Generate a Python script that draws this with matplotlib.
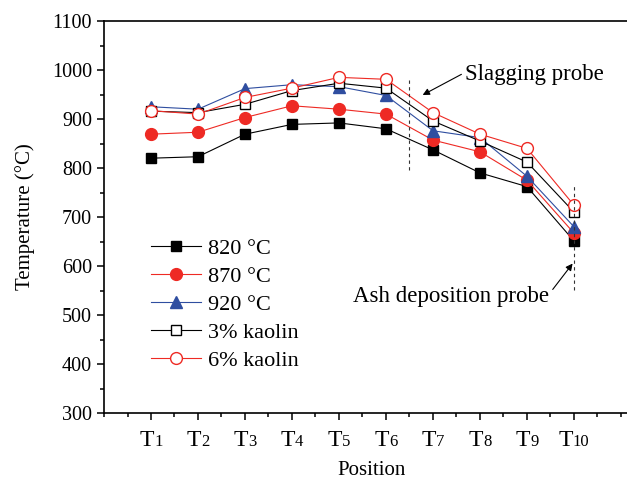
import matplotlib
matplotlib.use("Agg")
import matplotlib.pyplot as plt
from matplotlib.ticker import MultipleLocator

plt.rcParams['font.family'] = ['Liberation Serif', 'DejaVu Serif']

# Data
positions = [1, 2, 3, 4, 5, 6, 7, 8, 9, 10]
tick_subs = [str(i) for i in positions]
t820 = [820, 823, 869, 889, 892, 880, 837, 790, 762, 651]
t870 = [869, 873, 903, 927, 920, 910, 857, 833, 775, 667]
t920 = [925, 920, 962, 970, 966, 948, 876, 862, 783, 680]
kaolin3 = [916, 913, 930, 958, 973, 963, 896, 855, 812, 710]
kaolin6 = [917, 910, 944, 963, 985, 981, 913, 869, 840, 724]

RED = '#ee2a24'
BLUE = '#2f4ea0'

fig = plt.figure(figsize=(6.27, 4.84), dpi=100)
ax = fig.add_axes([104 / 627, 71 / 484, 540.5 / 627, 392 / 484])

lw = 0.8
ax.plot(positions, t820, color='black', lw=lw, marker='s', ms=7.5,
        mfc='black', mec='black', label='820 °C')
ax.plot(positions, t870, color=RED, lw=lw, marker='o', ms=8.5,
        mfc=RED, mec=RED, label='870 °C')
ax.plot(positions, t920, color=BLUE, lw=lw, marker='^', ms=9,
        mfc=BLUE, mec=BLUE, label='920 °C')
ax.plot(positions, kaolin3, color='black', lw=lw, marker='s', ms=7.5,
        mfc='white', mec='black', label='3% kaolin')
ax.plot(positions, kaolin6, color=RED, lw=lw, marker='o', ms=8.5,
        mfc='white', mec=RED, label='6% kaolin')

# probe markers
ax.plot([6.5, 6.5], [796, 980], color='#333333', lw=0.8, ls=(0, (3, 3)))
ax.plot([10, 10], [551, 765], color='#333333', lw=0.8, ls=(0, (3, 3)))
ax.annotate('Slagging probe', xy=(6.78, 949), xytext=(7.69, 980),
            fontsize=16.5, va='baseline', ha='left',
            arrowprops=dict(arrowstyle='-|>', color='black', lw=0.8,
                            mutation_scale=10, shrinkA=1, shrinkB=0,
                            relpos=(0, 0.6)))
ax.annotate('Ash deposition probe', xy=(9.97, 605), xytext=(9.47, 527),
            fontsize=16.5, va='baseline', ha='right',
            arrowprops=dict(arrowstyle='-|>', color='black', lw=0.8,
                            mutation_scale=10, shrinkA=1, shrinkB=0,
                            relpos=(1, 0.6)))

ax.set_xlim(0, 11.5)
ax.set_ylim(300, 1100)
ax.set_xticks(positions)
ax.set_xticklabels([])
ax.xaxis.set_minor_locator(MultipleLocator(0.5))
ax.yaxis.set_major_locator(MultipleLocator(100))
ax.yaxis.set_minor_locator(MultipleLocator(50))
ax.tick_params(which='major', direction='out', length=5, width=1.1,
               labelsize=14.5, top=False, right=False)
ax.tick_params(which='minor', direction='out', length=3, width=1.1,
               top=False, right=False)
for side in ['left', 'bottom', 'top']:
    ax.spines[side].set_linewidth(1.2)
ax.spines['right'].set_visible(False)

# x tick labels: "T" with a small index digit
T_SIZE, SUB_SIZE = 17, 12
for pos, sub in zip(positions, tick_subs):
    w_t = 0.61 * T_SIZE
    w_d = 0.5 * SUB_SIZE * len(sub)
    edge = (w_t - w_d) / 2
    ax.annotate('T', xy=(pos, 0), xycoords=('data', 'axes fraction'),
                xytext=(edge, -24), textcoords='offset points',
                ha='right', va='baseline', fontsize=T_SIZE)
    ax.annotate(sub, xy=(pos, 0), xycoords=('data', 'axes fraction'),
                xytext=(edge, -24), textcoords='offset points',
                ha='left', va='baseline', fontsize=SUB_SIZE)

ax.set_xlabel('Position', fontsize=15, va='top')
ax.xaxis.set_label_coords(0.495, -0.122)
ax.set_ylabel('Temperature (°C)', fontsize=15, labelpad=12)

ax.legend(loc='upper left', bbox_to_anchor=(0.07, 0.468), frameon=False,
          fontsize=16, handlelength=2.25, handletextpad=0.33,
          labelspacing=0.33, borderaxespad=0)

fig.savefig('out.png', dpi=100)
